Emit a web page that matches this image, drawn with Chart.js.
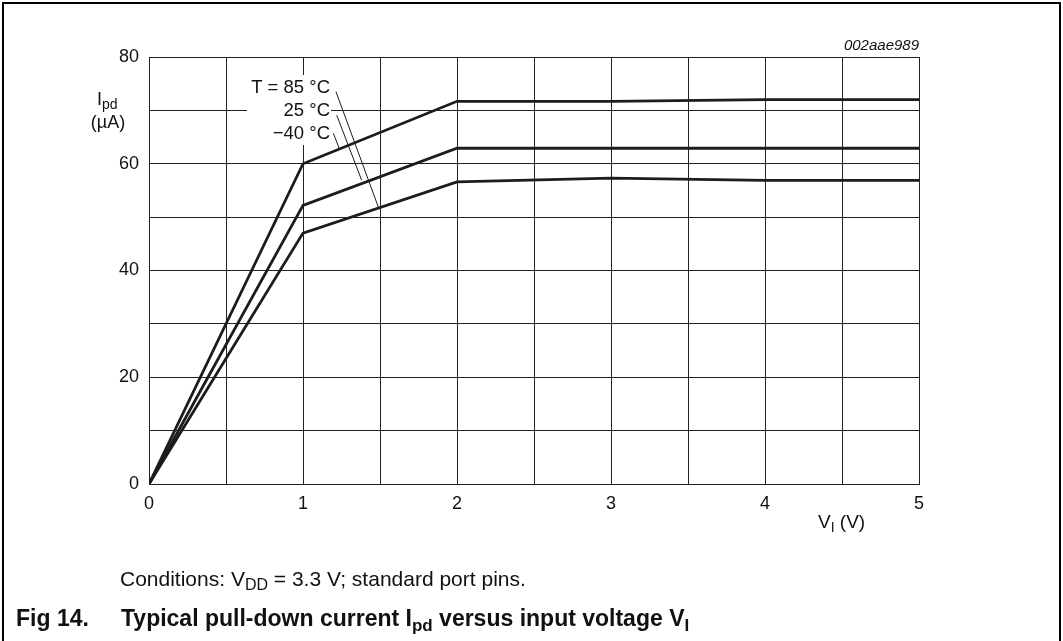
<!DOCTYPE html>
<html>
<head>
<meta charset="utf-8">
<script src="https://cdn.jsdelivr.net/npm/chart.js@4.4.1/dist/chart.umd.min.js"></script>
<style>
  html, body { margin: 0; padding: 0; background: #fff; }
  canvas { display: block; }
</style>
</head>
<body>
<canvas id="c" width="1063" height="641"></canvas>
<script>
/* input voltage V_I (V) */
const voltage = [0, 1, 2, 3, 4, 5];
/* pull-down current I_pd (uA) per temperature */
const ipdMinus40 = [0, 60.0, 71.7, 71.7, 72.0, 72.0];
const ipd25 = [0, 52.2, 62.9, 62.9, 62.9, 62.9];
const ipd85 = [0, 47.0, 56.6, 57.3, 56.9, 56.9];
const tempLabels = ["T = 85 °C", "25 °C", "\u221240 °C"];
/* leader lines: label end -> curve, in data units */
const leaders = [
  [1.214, 73.5, 1.489, 51.9],
  [1.219, 69.1, 1.381, 56.9],
  [1.197, 65.7, 1.235, 62.9],
];

const FONT = "'Liberation Sans', Arial, sans-serif";
const INK = "#1c1c1c";

function sub(ctx, x, y, main, subTxt, size, bold, after) {
  // text with a subscript part, returns end x
  const w = bold ? "bold " : "";
  ctx.font = w + size + "px " + FONT;
  ctx.fillText(main, x, y);
  x += ctx.measureText(main).width;
  ctx.font = w + Math.round(size * 0.75) + "px " + FONT;
  ctx.fillText(subTxt, x, y + size * 0.28);
  x += ctx.measureText(subTxt).width;
  if (after) {
    ctx.font = w + size + "px " + FONT;
    ctx.fillText(after, x, y);
    x += ctx.measureText(after).width;
  }
  return x;
}

const decor = {
  id: "decor",
  beforeDatasetsDraw(chart) {
    const ctx = chart.ctx;
    ctx.save();
    ctx.fillStyle = "#fff";
    ctx.fillRect(247, 75, 84, 70);
    ctx.restore();
  },
  afterDraw(chart) {
    const ctx = chart.ctx;
    const xs = chart.scales.x, ys = chart.scales.y;
    ctx.save();
    // frame
    ctx.strokeStyle = "#000";
    ctx.lineWidth = 2;
    ctx.beginPath();
    ctx.moveTo(3, 641); ctx.lineTo(3, 3); ctx.lineTo(1060, 3); ctx.lineTo(1060, 641);
    ctx.stroke();

    ctx.fillStyle = "#111";
    ctx.textBaseline = "middle";
    // temperature labels
    ctx.textAlign = "right";
    ctx.font = "18.5px " + FONT;
    ctx.fillText(tempLabels[0], 330, 88);
    ctx.fillText(tempLabels[1], 330, 111);
    ctx.fillText(tempLabels[2], 330, 134);
    // leaders
    ctx.strokeStyle = INK;
    ctx.lineWidth = 1;
    leaders.forEach(l => {
      ctx.beginPath();
      ctx.moveTo(xs.getPixelForValue(l[0]), ys.getPixelForValue(l[1]));
      ctx.lineTo(xs.getPixelForValue(l[2]), ys.getPixelForValue(l[3]));
      ctx.stroke();
    });

    // figure id
    ctx.font = "italic 15px " + FONT;
    ctx.textAlign = "right";
    ctx.fillText("002aae989", 919, 46);

    // y title
    ctx.textAlign = "left";
    sub(ctx, 97, 100, "I", "pd", 18, false);
    ctx.textAlign = "center";
    ctx.font = "18px " + FONT;
    ctx.fillText("(\u00b5A)", 108, 123);

    // x title
    ctx.textAlign = "left";
    sub(ctx, 818, 523, "V", "I", 19, false, " (V)");

    // caption
    sub(ctx, 120, 580, "Conditions: V", "DD", 21, false, " = 3.3 V; standard port pins.");
    ctx.font = "bold 23px " + FONT;
    ctx.fillText("Fig 14.", 16, 620);
    let x = sub(ctx, 121, 620, "Typical pull-down current I", "pd", 23, true, " versus input voltage V");
    ctx.font = "bold 17px " + FONT;
    ctx.fillText("I", x, 626);
    ctx.restore();
  }
};

const ds = (label, data) => ({
  label,
  data: voltage.map((v, i) => ({ x: v, y: data[i] })),
  borderColor: INK,
  borderWidth: 2.8,
  pointRadius: 0,
  tension: 0,
  fill: false,
});

new Chart(document.getElementById("c"), {
  type: "line",
  data: {
    datasets: [ds("-40 °C", ipdMinus40), ds("25 °C", ipd25), ds("85 °C", ipd85)],
  },
  options: {
    responsive: false,
    animation: false,
    layout: { padding: { left: 0, right: 144, top: 57, bottom: 0 } },
    plugins: { legend: { display: false }, tooltip: { enabled: false } },
    scales: {
      x: {
        type: "linear", min: 0, max: 5,
        afterFit: s => { s.height = 157; },
        ticks: {
          stepSize: 0.5, padding: 9, color: "#111",
          font: { family: FONT, size: 18 },
          maxRotation: 0, autoSkip: false,
          callback: v => (Number.isInteger(v) ? v : ""),
        },
        grid: { color: "#222", lineWidth: 1, drawTicks: false },
        border: { color: "#222" },
      },
      y: {
        min: 0, max: 80,
        afterFit: s => { s.width = 149; },
        ticks: {
          stepSize: 10, padding: 10, color: "#111",
          font: { family: FONT, size: 18 },
          callback: v => (v % 20 === 0 ? v : ""),
        },
        grid: { color: "#222", lineWidth: 1, drawTicks: false },
        border: { color: "#222" },
      },
    },
  },
  plugins: [decor],
});
</script>
</body>
</html>
